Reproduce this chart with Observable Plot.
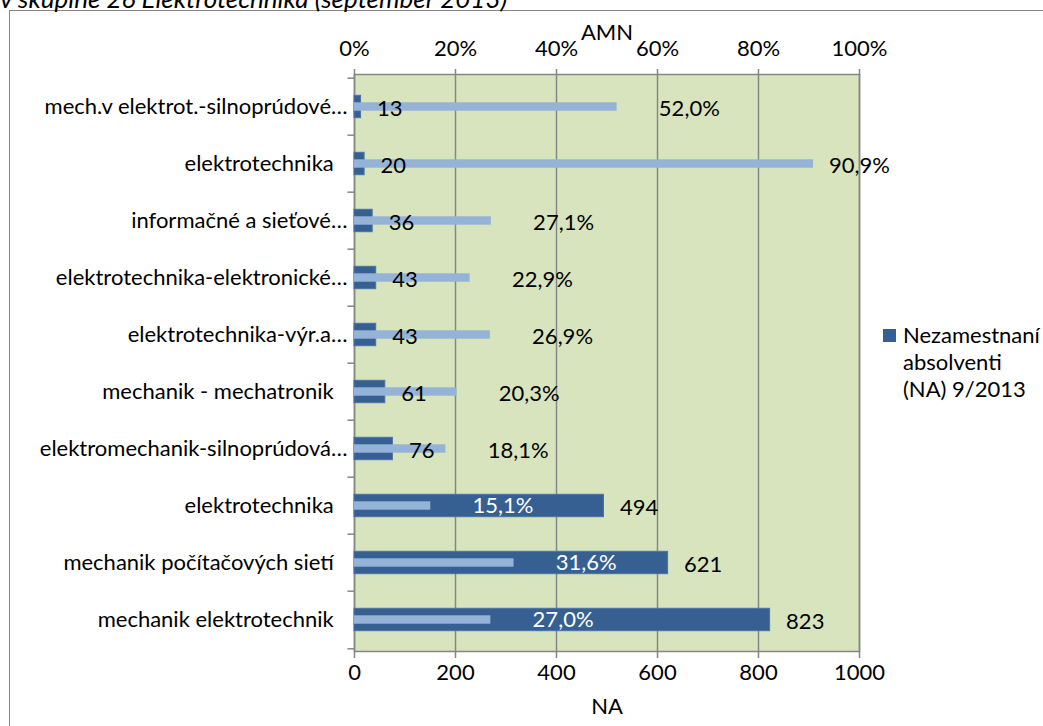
<!DOCTYPE html>
<html>
<head>
<meta charset="utf-8">
<script src="https://cdn.jsdelivr.net/npm/d3@7"></script>
<script src="https://cdn.jsdelivr.net/npm/@observablehq/plot@0.6"></script>
<style>
  html, body { margin: 0; padding: 0; background: #fff; }
  #wrap { position: relative; width: 1043px; height: 726px; overflow: hidden; font-family: Lato, "Open Sans", sans-serif; }
  #border { position: absolute; left: 9px; top: 10px; width: 1100px; height: 800px; border: 1px solid #868686; box-sizing: border-box; }
  #title { position: absolute; left: 0px; top: -15px; font-size: 26px; line-height: 26px; font-style: italic; white-space: nowrap; color: #000; }
  #chart { position: absolute; left: 0; top: 0; }
  #legend { position: absolute; left: 883px; top: 321px; font-size: 22px; line-height: 27px; color: #000; }
  #legend .sw { position: absolute; left: 0; top: 8px; width: 13px; height: 13px; }
  #legend .tx { margin-left: 20px; }
</style>
</head>
<body>
<div id="wrap">
  <div id="border"></div>
  <div id="title"></div>
  <div id="chart"></div>
  <div id="legend"></div>
</div>
<script>
// ---- data ----
const titleText = "v skupine 26 Elektrotechnika (september 2013)";
const categories = [
  "mech.v elektrot.-silnoprúdové…",
  "elektrotechnika",
  "informačné a sieťové…",
  "elektrotechnika-elektronické…",
  "elektrotechnika-výr.a…",
  "mechanik - mechatronik",
  "elektromechanik-silnoprúdová…",
  "elektrotechnika",
  "mechanik počítačových sietí",
  "mechanik elektrotechnik"
];
const naValues = [13, 20, 36, 43, 43, 61, 76, 494, 621, 823];
const amnValues = [52.0, 90.9, 27.1, 22.9, 26.9, 20.3, 18.1, 15.1, 31.6, 27.0];
const naTicks = [0, 200, 400, 600, 800, 1000];
const amnTicks = [0, 20, 40, 60, 80, 100];
const legendLines = ["Nezamestnaní", "absolventi", "(NA) 9/2013"];
const naAxisTitle = "NA";
const amnAxisTitle = "AMN";

// ---- styles ----
const DARK = "#376092";
const LIGHT = "#95B3D7";
const GREEN = "#D7E4BD";
const GRID = "#868686";

const idx = categories.map((_, i) => i);
const rows = idx.map(i => ({i, cat: categories[i], na: naValues[i], amn: amnValues[i]}));
// AMN (0–100 %) shares the NA axis: 100 % sits where 1000 NA sits
const amnToX = p => p * 10;
const amnLabelX = d => Math.min(amnToX(d.amn) + 143, 1000);
const fmtPct = p => p.toFixed(1).replace(".", ",") + "%";
const catLabel = i => categories[i].endsWith("…") ? categories[i] : categories[i] + "\u2002\u2009";

document.getElementById("title").textContent = titleText;

const chart = Plot.plot({
  width: 1043,
  height: 726,
  marginLeft: 354,
  marginRight: 184,
  marginTop: 74,
  marginBottom: 75,
  style: {fontFamily: "Lato, 'Open Sans', sans-serif", fontSize: "22px", color: "#000", background: "transparent", overflow: "visible"},
  x: {domain: [0, 1000]},
  y: {type: "band", domain: idx, padding: 0},
  marks: [
    Plot.frame({fill: GREEN, stroke: GRID, strokeWidth: 1.5}),
    Plot.ruleX(naTicks, {stroke: GRID, strokeWidth: 1.5}),
    Plot.barX(rows, {x: "na", y: "i", fill: DARK, stroke: "#4A72A6", strokeWidth: 1, insetTop: 17.3, insetBottom: 17.3}),
    Plot.barX(rows, {x: d => amnToX(d.amn), y: "i", fill: LIGHT, insetTop: 24.3, insetBottom: 24.3}),
    // category boundary ticks on the y axis
    Plot.ruleY(idx, {y: d => d, x1: -13, x2: 0, dy: -28.8, stroke: GRID, strokeWidth: 1.5}),
    Plot.ruleY([idx[idx.length - 1]], {y: d => d, x1: -13, x2: 0, dy: 28.8, stroke: GRID, strokeWidth: 1.5}),
    // axes
    Plot.axisY(idx, {tickSize: 0, tickPadding: 7, tickFormat: catLabel, label: null, fill: "#000"}),
    Plot.axisX(naTicks, {anchor: "bottom", tickSize: 7, tickPadding: 6, tickFormat: d => String(d), stroke: GRID, strokeWidth: 1.5, fill: "#000", label: null}),
    Plot.axisX(amnTicks.map(amnToX), {anchor: "top", tickSize: 6, tickPadding: 13, tickFormat: x => (x / 10) + "%", stroke: GRID, strokeWidth: 1.5, fill: "#000", label: null}),
    Plot.text([amnAxisTitle], {frameAnchor: "top", dy: -50, fill: "#000"}),
    Plot.text([naAxisTitle], {frameAnchor: "bottom", dy: 62, fill: "#000"}),
    // NA value labels
    Plot.text(rows, {x: "na", y: "i", text: d => String(d.na), dx: 16, dy: 2, textAnchor: "start", fill: "#000"}),
    // AMN value labels
    Plot.text(rows.filter(d => d.na <= amnLabelX(d)), {x: amnLabelX, y: "i", text: d => fmtPct(d.amn), dy: 2, textAnchor: "middle", fill: "#000"}),
    Plot.text(rows.filter(d => d.na > amnLabelX(d)), {x: amnLabelX, y: "i", text: d => fmtPct(d.amn), dy: 0, textAnchor: "middle", fill: "#fff"})
  ]
});
document.getElementById("chart").appendChild(chart);

const legend = document.getElementById("legend");
const sw = document.createElement("div");
sw.className = "sw";
sw.style.background = DARK;
legend.appendChild(sw);
const tx = document.createElement("div");
tx.className = "tx";
tx.innerHTML = legendLines.join("<br>");
legend.appendChild(tx);
</script>
</body>
</html>
